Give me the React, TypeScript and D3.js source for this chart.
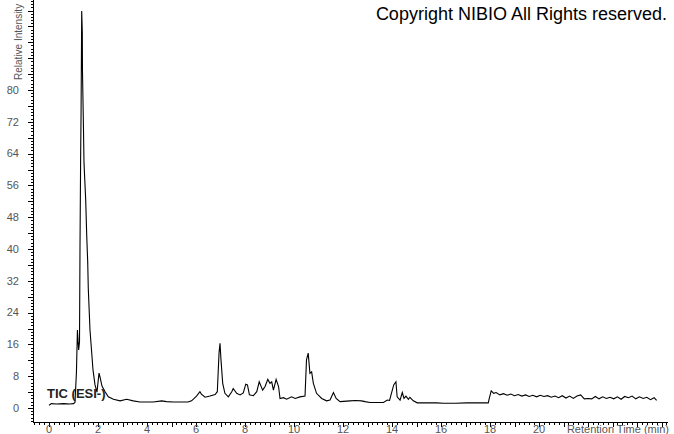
import * as d3 from 'd3';
import { useEffect, useRef } from 'react';

// retention time (min) and relative intensity (%)
const times = [
  0.0, 0.1, 0.3, 0.6, 0.85, 1.0, 1.06, 1.12, 1.16, 1.21, 1.245, 1.265, 1.29, 1.31, 1.335,
  1.359, 1.367, 1.4, 1.429, 1.498, 1.539, 1.58, 1.604, 1.673, 1.796, 1.878, 1.959, 2.041,
  2.082, 2.163, 2.29, 2.42, 2.63, 2.9, 3.17, 3.44, 3.71, 4.25, 4.6, 4.8, 5.07, 5.67, 5.82,
  6.02, 6.16, 6.22, 6.37, 6.57, 6.78, 6.87, 6.94, 6.98, 7.02, 7.09, 7.18, 7.32, 7.46, 7.52,
  7.66, 7.8, 7.93, 8.03, 8.1, 8.18, 8.34, 8.48, 8.58, 8.72, 8.82, 8.93, 9.02, 9.09, 9.16,
  9.27, 9.37, 9.43, 9.57, 9.7, 9.9, 10.05, 10.24, 10.45, 10.51, 10.58, 10.65, 10.72, 10.79,
  10.92, 11.13, 11.33, 11.47, 11.61, 11.72, 11.88, 12.29, 12.5, 12.76, 12.9, 13.1, 13.65,
  13.81, 13.9, 14.07, 14.16, 14.21, 14.33, 14.42, 14.49, 14.57, 14.67, 14.73, 14.87, 15.03,
  15.82, 16.1, 16.6, 17.05, 17.93, 17.97, 18.05, 18.15, 18.25, 18.4, 18.55, 18.7, 18.85,
  19.0, 19.15, 19.3, 19.45, 19.6, 19.75, 19.9, 20.05, 20.2, 20.35, 20.5, 20.65, 20.8, 20.95,
  21.1, 21.25, 21.4, 21.55, 21.7, 21.85, 22.0, 22.15, 22.3, 22.45, 22.6, 22.75, 22.9, 23.05,
  23.2, 23.35, 23.5, 23.65, 23.8, 23.95, 24.1, 24.25, 24.4, 24.55, 24.7, 24.8,
];
const intensity = [
  0.7, 1.1, 1.0, 1.1, 1.0, 1.1, 1.4, 9.0, 19.6, 14.6, 16.6, 40.0, 62.0, 75.0, 99.9,
  94.6, 84.5, 73.0, 61.6, 52.3, 43.5, 36.7, 30.0, 19.6, 9.6, 5.8, 4.0, 8.8,
  7.8, 5.5, 4.1, 2.8, 2.2, 1.8, 2.2, 1.8, 1.5, 1.5, 1.8, 1.6, 1.5, 1.5, 1.8,
  3.0, 4.1, 3.5, 2.7, 3.0, 3.4, 4.1, 13.8, 16.3, 12.1, 6.2, 3.7, 2.8, 4.1, 4.9,
  3.7, 3.3, 3.8, 6.0, 5.8, 3.3, 3.1, 4.1, 6.6, 4.5, 5.4, 7.2, 6.2, 6.6, 4.5,
  7.2, 5.4, 2.4, 2.6, 2.2, 2.8, 2.4, 2.8, 3.0, 12.1, 13.8, 8.7, 9.1, 6.2,
  3.7, 2.4, 1.8, 2.0, 3.9, 2.4, 1.6, 1.8, 1.9, 1.8, 1.6, 1.4, 1.4,
  2.0, 1.9, 5.8, 6.6, 2.8, 2.0, 3.9, 2.4, 3.0, 2.2, 2.7, 1.8, 1.3,
  1.3, 1.2, 1.2, 1.3, 1.3, 2.4, 4.3, 3.7, 3.9, 3.3, 3.6, 3.2, 3.5,
  3.1, 3.4, 3.0, 3.3, 2.9, 3.2, 2.8, 3.2, 2.9, 3.1, 2.7, 3.0, 2.6, 3.1,
  2.5, 3.0, 2.4, 3.0, 3.3, 2.3, 2.4, 2.3, 2.9, 2.3, 2.8, 2.4, 2.7, 2.3,
  2.8, 2.2, 2.9, 2.6, 3.0, 2.3, 2.8, 2.4, 2.7, 2.1, 2.6, 1.9,
];

const yLabels = [0, 8, 16, 24, 32, 40, 48, 56, 64, 72, 80];
const xLabels = [0, 2, 4, 6, 8, 10, 12, 14, 16, 18, 20];

const W = 674;
const H = 434;

export default function App() {
  const ref = useRef<SVGSVGElement>(null);

  useEffect(() => {
    const svg = d3.select(ref.current);
    svg.selectAll('*').remove();

    const x = d3.scaleLinear().domain([0, 2]).range([49, 98]);
    const y = d3.scaleLinear().domain([0, 80]).range([408, 90]);
    const left = 33;
    const bottom = 422;
    const right = 668;

    const font = "'Liberation Sans', Arial, sans-serif";
    const grey = '#555';

    // y axis
    const yAxis = svg.append('g');
    yAxis.append('line')
      .attr('x1', left + 0.5).attr('x2', left + 0.5)
      .attr('y1', 0).attr('y2', bottom)
      .attr('stroke', '#000');
    const yMinor = d3.range(-4, 129).map((i) => i * 0.8).filter((v) => y(v) > 0 && y(v) < bottom - 1);
    const yMajor = d3.range(0, 104, 4).filter((v) => y(v) > 0);
    yAxis.selectAll('.ymin').data(yMinor).enter().append('line')
      .attr('x1', left - 2).attr('x2', left)
      .attr('y1', (d) => Math.round(y(d)) + 0.5).attr('y2', (d) => Math.round(y(d)) + 0.5)
      .attr('stroke', '#000');
    yAxis.selectAll('.ymaj').data(yMajor).enter().append('line')
      .attr('x1', left - 5).attr('x2', left)
      .attr('y1', (d) => Math.round(y(d)) + 0.5).attr('y2', (d) => Math.round(y(d)) + 0.5)
      .attr('stroke', '#000');
    yAxis.selectAll('text').data(yLabels).enter().append('text')
      .attr('x', 19).attr('y', (d) => y(d)).attr('dy', '0.35em')
      .attr('text-anchor', 'end')
      .attr('font-family', font).attr('font-size', 11).attr('fill', grey)
      .text((d) => d);
    svg.append('text')
      .attr('transform', 'translate(22,80) rotate(-90)')
      .attr('font-family', font).attr('font-size', 10).attr('fill', grey)
      .text('Relative Intensity');

    // x axis
    const xAxis = svg.append('g');
    xAxis.append('line')
      .attr('x1', left).attr('x2', right)
      .attr('y1', bottom + 0.5).attr('y2', bottom + 0.5)
      .attr('stroke', '#000');
    const xMinor = d3.range(-3, 127).map((i) => i * 0.2).filter((v) => x(v) > left && x(v) <= right);
    const xMajor = d3.range(0, 26).filter((v) => x(v) <= right);
    xAxis.selectAll('.xmin').data(xMinor).enter().append('line')
      .attr('x1', (d) => Math.round(x(d)) + 0.5).attr('x2', (d) => Math.round(x(d)) + 0.5)
      .attr('y1', bottom).attr('y2', bottom + 3)
      .attr('stroke', '#000');
    xAxis.selectAll('.xmaj').data(xMajor).enter().append('line')
      .attr('x1', (d) => Math.round(x(d)) + 0.5).attr('x2', (d) => Math.round(x(d)) + 0.5)
      .attr('y1', bottom).attr('y2', bottom + 5)
      .attr('stroke', '#000');
    xAxis.selectAll('text').data(xLabels).enter().append('text')
      .attr('x', (d) => x(d)).attr('y', 433)
      .attr('text-anchor', 'middle')
      .attr('font-family', font).attr('font-size', 11).attr('fill', grey)
      .text((d) => d);
    svg.append('text')
      .attr('x', 669).attr('y', 433)
      .attr('text-anchor', 'end')
      .attr('font-family', font).attr('font-size', 11).attr('fill', grey)
      .text('Retention Time (min)');

    // trace
    const line = d3.line<number>()
      .x((d, i) => x(times[i]))
      .y((d) => y(d));
    svg.append('path')
      .datum(intensity)
      .attr('d', line)
      .attr('fill', 'none')
      .attr('stroke', '#000')
      .attr('stroke-width', 1.1);

    svg.append('text')
      .attr('x', 47).attr('y', 398)
      .attr('font-family', font).attr('font-size', 13).attr('font-weight', 'bold')
      .attr('fill', '#222')
      .text('TIC (ESI-)');

    svg.append('text')
      .attr('x', 667).attr('y', 20)
      .attr('text-anchor', 'end')
      .attr('font-family', font).attr('font-size', 18).attr('fill', '#000')
      .text('Copyright NIBIO All Rights reserved.');
  }, []);

  return (
    <svg
      ref={ref}
      width={W}
      height={H}
      style={{ position: 'absolute', left: 0, top: 0, background: '#fff' }}
    />
  );
}
